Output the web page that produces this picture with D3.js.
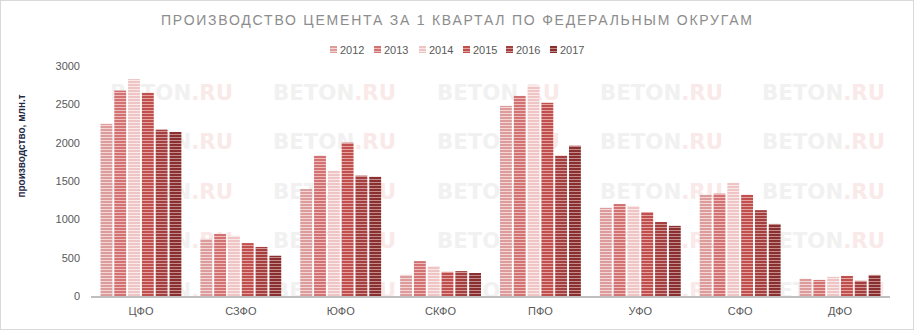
<!DOCTYPE html>
<html>
<head>
<meta charset="utf-8">
<script src="https://cdn.jsdelivr.net/npm/d3@7"></script>
<style>
  html, body { margin: 0; padding: 0; background: #fff; }
  svg { display: block; }
</style>
</head>
<body>
<svg id="chart" width="914" height="330"></svg>
<script>
// Cement production in Q1 by federal district, thousand tonnes
const districts = ["ЦФО", "СЗФО", "ЮФО", "СКФО", "ПФО", "УФО", "СФО", "ДФО"];
const years = ["2012", "2013", "2014", "2015", "2016", "2017"];
const v2012 = [2245, 745, 1395, 275, 2480, 1150, 1320, 225];
const v2013 = [2680, 810, 1830, 455, 2610, 1200, 1335, 210];
const v2014 = [2830, 785, 1635, 390, 2740, 1175, 1475, 250];
const v2015 = [2650, 690, 2000, 315, 2520, 1095, 1320, 262];
const v2016 = [2170, 640, 1570, 325, 1830, 965, 1120, 198];
const v2017 = [2140, 525, 1555, 300, 1960, 915, 940, 275];
const yTicks = [0, 500, 1000, 1500, 2000, 2500, 3000];

const seriesValues = [v2012, v2013, v2014, v2015, v2016, v2017];
// stripe colour and the lighter gap colour for each year
const stripeDark  = ["#dc9c9c", "#d27272", "#eec4c4", "#c0504d", "#a43f3f", "#8a2f2f"];
const stripeLight = ["#f3d6d6", "#efbcbc", "#fae9e9", "#e5a3a1", "#d29898", "#c48c8c"];

const svg = d3.select("#chart");
const W = 914, H = 330;

// outer frame
svg.append("rect").attr("x", 0.5).attr("y", 0.5).attr("width", W - 1).attr("height", H - 1)
  .attr("fill", "#fff").attr("stroke", "#d9d9d9");

// horizontal-stripe fills
const defs = svg.append("defs");
years.forEach((y, i) => {
  const p = defs.append("pattern").attr("id", "stripe" + y)
    .attr("patternUnits", "userSpaceOnUse").attr("width", 6).attr("height", 3);
  p.append("rect").attr("width", 6).attr("height", 3).attr("fill", stripeLight[i]);
  p.append("rect").attr("width", 6).attr("height", 2).attr("fill", stripeDark[i]);
});

const plot = { left: 91, right: 890, top: 66, bottom: 296 };

const x0 = d3.scaleBand().domain(districts).range([plot.left, plot.right]).padding(0);
const x1 = d3.scaleBand().domain(years).range([9.5, x0.bandwidth() - 9.5]).paddingInner(0.14);
const y = d3.scaleLinear().domain([0, 3000]).range([plot.bottom, plot.top]);

// BETON.RU watermark tiles
const wmCols = [110, 273, 437, 600, 762];
const wmRows = [92, 141, 191, 240, 290];
const wm = svg.append("g").attr("class", "watermark");
wmRows.forEach(ry => wmCols.forEach(cx => {
  const t = wm.append("text").attr("x", cx).attr("y", ry + 8)
    .attr("font-family", "'DejaVu Sans'").attr("font-weight", "bold").attr("font-size", 22)
    .attr("textLength", 123).attr("lengthAdjust", "spacingAndGlyphs");
  t.append("tspan").attr("fill", "#f1f1f1").text("BETON");
  t.append("tspan").attr("fill", "#f9e9e9").text(".RU");
}));

// bars
const groups = svg.append("g").selectAll("g").data(districts).join("g")
  .attr("transform", d => `translate(${x0(d)},0)`);
groups.selectAll("rect")
  .data((d, di) => years.map((yr, si) => ({ yr, v: seriesValues[si][di] })))
  .join("rect")
  .attr("x", d => x1(d.yr))
  .attr("width", x1.bandwidth())
  .attr("y", d => y(d.v))
  .attr("height", d => y(0) - y(d.v))
  .attr("fill", d => `url(#stripe${d.yr})`);

// y axis labels
const yAxis = d3.axisLeft(y).tickValues(yTicks).tickFormat(d3.format("d")).tickSize(0).tickPadding(0);
const gy = svg.append("g").attr("transform", `translate(80,0)`).call(yAxis);
gy.select(".domain").remove();
gy.selectAll("text").attr("font-family", "'Liberation Sans', Arial, sans-serif")
  .attr("font-size", 11).attr("fill", "#595959");

// baseline
svg.append("line").attr("x1", plot.left).attr("x2", plot.right)
  .attr("y1", plot.bottom + 1).attr("y2", plot.bottom + 1)
  .attr("stroke", "#bfbfbf").attr("stroke-width", 2);

// category labels
const xAxis = d3.axisBottom(x0).tickSize(0).tickPadding(0);
const gx = svg.append("g").attr("transform", `translate(0,${plot.bottom + 11})`).call(xAxis);
gx.select(".domain").remove();
gx.selectAll("text").attr("font-family", "'Liberation Sans', Arial, sans-serif")
  .attr("font-size", 11).attr("fill", "#595959");

// y axis title
svg.append("text").attr("transform", "translate(25,146) rotate(-90)")
  .attr("text-anchor", "middle")
  .attr("font-family", "'Liberation Sans', Arial, sans-serif").attr("font-weight", "bold")
  .attr("font-size", 10).attr("fill", "#1f2a44")
  .text("производство, млн.т");

// chart title
svg.append("text").attr("x", 161).attr("y", 25)
  .attr("font-family", "'Liberation Sans', Arial, sans-serif").attr("font-size", 14)
  .attr("fill", "#8c8c8c").attr("textLength", 591).attr("lengthAdjust", "spacing")
  .text("ПРОИЗВОДСТВО ЦЕМЕНТА ЗА 1 КВАРТАЛ ПО ФЕДЕРАЛЬНЫМ ОКРУГАМ");

// legend
const legendX = [330, 374, 419, 463, 506, 550];
const lg = svg.append("g").selectAll("g").data(years).join("g")
  .attr("transform", (d, i) => `translate(${legendX[i]},46)`);
lg.append("rect").attr("width", 7).attr("height", 7).attr("y", 0)
  .attr("fill", d => `url(#stripe${d})`);
lg.append("text").attr("x", 10).attr("y", 8)
  .attr("font-family", "'Liberation Sans', Arial, sans-serif").attr("font-size", 11)
  .attr("fill", "#595959").text(d => d);
</script>
</body>
</html>
